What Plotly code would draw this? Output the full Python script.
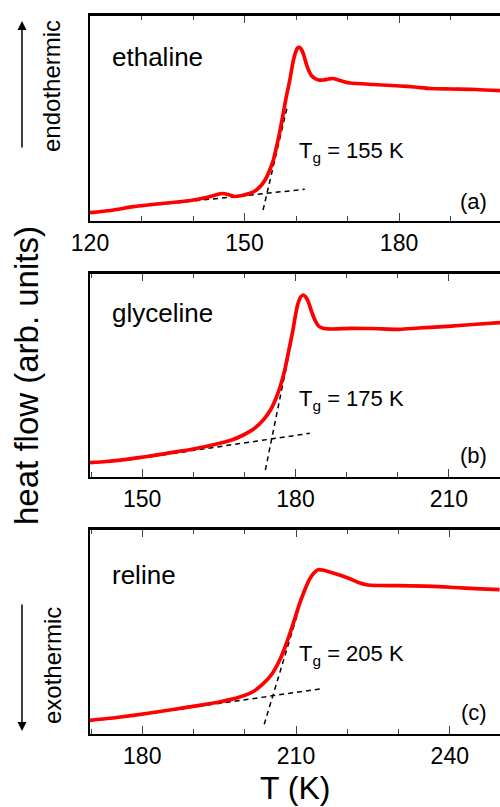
import plotly.graph_objects as go

# ---------------- data ----------------
# panel (a) ethaline
T_a = [120.0, 124.0, 128.4, 132.0, 136.0, 140.1, 143.0, 145.6, 146.8, 148.0, 149.5, 151.1,
       152.3, 153.3, 154.1, 154.9, 155.6, 156.2, 156.8, 157.5, 158.1, 158.8, 159.3, 159.8,
       160.3, 160.7, 161.1, 161.5, 162.0, 162.5, 163.0, 163.6, 164.4, 165.3, 166.3, 167.2,
       168.2, 169.5, 170.5, 175.0, 180.2, 183.0, 186.0, 190.0, 195.0, 199.6]
H_a = [8.3, 10.5, 14.3, 16.5, 18.5, 21.0, 24.0, 27.5, 26.5, 24.5, 25.5, 27.7,
       31.0, 36.0, 42.0, 51.0, 61.0, 74.0, 88.0, 107.0, 124.0, 141.0, 156.0, 167.0,
       173.0, 173.5, 171.0, 166.0, 157.0, 150.0, 145.5, 142.7, 141.0, 141.0, 142.0, 142.5,
       141.0, 139.0, 138.0, 136.5, 135.0, 134.0, 132.5, 132.0, 131.5, 130.3]
base_a_T = [126.5, 161.7]
base_a_H = [12.7, 31.7]
tan_a_T = [153.6, 158.3]
tan_a_H = [11.0, 114.3]

# panel (b) glyceline
T_b = [139.8, 143.0, 146.9, 151.0, 154.8, 160.0, 164.6, 167.5, 169.8, 171.8, 173.7, 175.1,
       176.3, 177.1, 177.9, 178.7, 179.5, 180.0, 180.5, 181.0, 181.5, 182.0, 182.5, 183.1,
       183.8, 184.5, 185.4, 187.0, 190.6, 195.0, 200.4, 204.0, 208.9, 212.0, 216.0, 220.0]
H_b = [14.3, 15.5, 17.7, 20.5, 23.7, 28.0, 33.0, 37.0, 42.0, 48.0, 57.0, 67.0,
       80.3, 92.0, 107.0, 127.0, 147.0, 162.0, 173.7, 180.0, 182.0, 180.0, 175.3, 166.0,
       157.0, 151.0, 148.7, 148.0, 148.7, 148.5, 147.7, 149.0, 150.3, 151.5, 153.0, 154.3]
base_b_T = [147.3, 182.8]
base_b_H = [17.0, 43.7]
tan_b_T = [174.1, 179.2]
tan_b_H = [7.0, 135.3]

# panel (c) reline
T_c = [169.8, 175.0, 181.5, 186.0, 191.2, 195.0, 199.0, 201.5, 203.6, 205.3, 206.8, 207.8,
       208.8, 209.8, 210.7, 211.7, 212.7, 213.5, 214.3, 215.2, 216.6, 218.5, 220.5, 222.2,
       223.7, 226.0, 230.0, 236.7, 241.0, 245.0, 249.7]
H_c = [13.7, 16.5, 21.0, 24.5, 28.7, 32.0, 37.0, 42.0, 50.3, 60.0, 73.7, 86.0,
       100.3, 116.0, 130.3, 144.0, 155.3, 161.0, 164.3, 164.0, 162.0, 159.0, 155.3, 151.5,
       149.3, 148.5, 148.3, 147.7, 146.5, 145.3, 144.3]
base_c_T = [178.9, 215.0]
base_c_H = [18.7, 45.3]
tan_c_T = [203.8, 210.4]
tan_c_H = [9.7, 122.0]

names = ["ethaline", "glyceline", "reline"]
tg_labels = ["T<sub>g</sub> = 155 K", "T<sub>g</sub> = 175 K", "T<sub>g</sub> = 205 K"]
panel_tags = ["(a)", "(b)", "(c)"]
x_ranges = [[120, 199.6], [139.8, 220], [169.8, 249.8]]
y_ranges = [[0, 206], [0, 204], [0, 205]]

curves = [(T_a, H_a), (T_b, H_b), (T_c, H_c)]
bases = [(base_a_T, base_a_H), (base_b_T, base_b_H), (base_c_T, base_c_H)]
tans = [(tan_a_T, tan_a_H), (tan_b_T, tan_b_H), (tan_c_T, tan_c_H)]

# ---------------- layout geometry ----------------
W, H = 500, 807
FONT = "Liberation Sans, Arial, sans-serif"
panel_px = [(15, 221), (273, 477), (529, 734)]
x_left = 90

def py(p):
    return (H - p) / H

fig = go.Figure()

for i in range(3):
    xa = "x" if i == 0 else f"x{i+1}"
    ya = "y" if i == 0 else f"y{i+1}"
    T, Hf = curves[i]
    bT, bH = bases[i]
    tT, tH = tans[i]
    fig.add_trace(go.Scatter(x=bT, y=bH, mode="lines", xaxis=xa, yaxis=ya,
                             line=dict(color="black", width=1.5, dash="5px,4px"),
                             showlegend=False, hoverinfo="skip"))
    fig.add_trace(go.Scatter(x=tT, y=tH, mode="lines", xaxis=xa, yaxis=ya,
                             line=dict(color="black", width=1.5, dash="5px,4px"),
                             showlegend=False, hoverinfo="skip"))
    fig.add_trace(go.Scatter(x=T, y=Hf, mode="lines", xaxis=xa, yaxis=ya,
                             line=dict(color="#ff0000", width=3.7, shape="spline", smoothing=0.6),
                             showlegend=False))

layout = dict(
    width=W, height=H,
    margin=dict(l=0, r=0, t=0, b=0, autoexpand=False),
    paper_bgcolor="white", plot_bgcolor="white",
    font=dict(family=FONT, color="black"),
    showlegend=False,
)

shapes = []
for i in range(3):
    top, bot = panel_px[i]
    xn = "xaxis" if i == 0 else f"xaxis{i+1}"
    yn = "yaxis" if i == 0 else f"yaxis{i+1}"
    yref = "y" if i == 0 else f"y{i+1}"
    xref = "x" if i == 0 else f"x{i+1}"
    layout[xn] = dict(
        domain=[x_left / W, 1.0], range=x_ranges[i], anchor=yref,
        showline=True, linewidth=2, linecolor="black", mirror="allticks",
        ticks="inside", ticklen=8, dtick=30,
        minor=dict(ticks="inside", ticklen=5, dtick=10),
        showgrid=False, zeroline=False,
        tickfont=dict(family=FONT, size=23, color="black"),
    )
    layout[yn] = dict(
        domain=[py(bot), py(top)], range=y_ranges[i], anchor=xref,
        showline=True, linewidth=2, linecolor="black",
        showticklabels=False, showgrid=False, zeroline=False,
    )
    # top frame edge of the panel
    shapes.append(dict(type="line", xref=f"{xref} domain", yref=f"{yref} domain",
                       x0=0, x1=1, y0=1, y1=1, line=dict(color="black", width=2)))

layout["shapes"] = shapes
fig.update_layout(**layout)

ann = []
label_centers = [57, 313, 575]
tg_centers = [152, 400, 655]
tag_centers = [201, 455, 712]
for i in range(3):
    ann.append(dict(text=names[i], x=110 / W, y=py(label_centers[i]), xref="paper", yref="paper",
                    xanchor="left", yanchor="middle", showarrow=False,
                    font=dict(family=FONT, size=26, color="black")))
    ann.append(dict(text=tg_labels[i], x=297 / W, y=py(tg_centers[i]), xref="paper", yref="paper",
                    xanchor="left", yanchor="middle", showarrow=False,
                    font=dict(family=FONT, size=22, color="black")))
    ann.append(dict(text=panel_tags[i], x=489 / W, y=py(tag_centers[i]), xref="paper", yref="paper",
                    xanchor="right", yanchor="middle", showarrow=False,
                    font=dict(family=FONT, size=22, color="black")))

ann.append(dict(text="heat flow (arb. units)", x=26 / W, y=py(376), xref="paper", yref="paper",
                xanchor="center", yanchor="middle", textangle=-90, showarrow=False,
                font=dict(family=FONT, size=33, color="black")))
ann.append(dict(text="T (K)", x=295 / W, y=py(788), xref="paper", yref="paper",
                xanchor="center", yanchor="middle", showarrow=False,
                font=dict(family=FONT, size=32, color="black")))
ann.append(dict(text="endothermic", x=52 / W, y=py(86), xref="paper", yref="paper",
                xanchor="center", yanchor="middle", textangle=-90, showarrow=False,
                font=dict(family=FONT, size=24, color="black")))
ann.append(dict(text="exothermic", x=52 / W, y=py(666), xref="paper", yref="paper",
                xanchor="center", yanchor="middle", textangle=-90, showarrow=False,
                font=dict(family=FONT, size=24, color="black")))
ann.append(dict(text="", x=22 / W, y=py(21), xref="paper", yref="paper",
                ax=0, ay=128, showarrow=True, arrowhead=2, arrowsize=1.2, arrowwidth=1.5,
                arrowcolor="black"))
ann.append(dict(text="", x=22 / W, y=py(731), xref="paper", yref="paper",
                ax=0, ay=-128, showarrow=True, arrowhead=2, arrowsize=1.2, arrowwidth=1.5,
                arrowcolor="black"))

fig.update_layout(annotations=ann)
fig.write_html("out.html", config={"displayModeBar": False},
               post_script="document.body.style.margin='0';document.body.style.overflow='hidden';")
